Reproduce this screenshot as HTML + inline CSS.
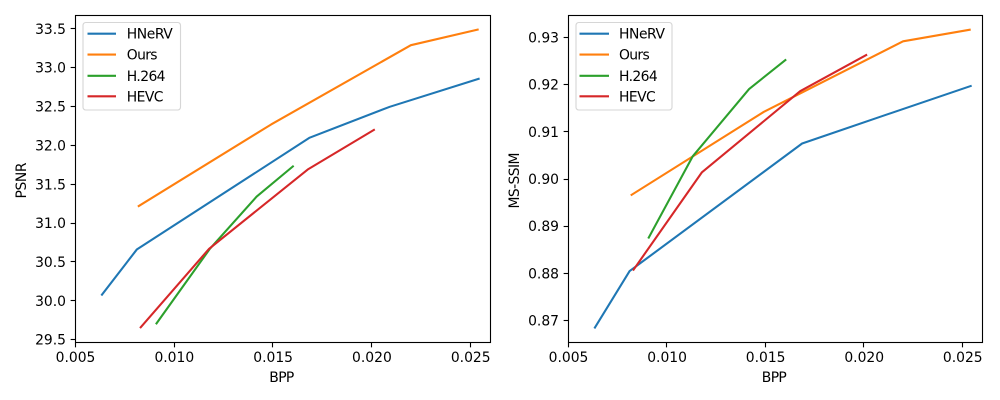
<!DOCTYPE html>
<html lang="en">
<head>
<meta charset="utf-8">
<title>HNeRV comparison chart</title>
<style>
html,body{margin:0;padding:0;background:#fff;width:1000px;height:400px;overflow:hidden}
svg{display:block}
text{font-family:"DejaVu Sans",sans-serif;font-size:13.89px;fill:#000}
</style>
</head>
<body>
<svg id="chart" xmlns="http://www.w3.org/2000/svg" width="1000" height="400" viewBox="0 0 1000 400"></svg>
<script>
const seriesNames = ['HNeRV', 'Ours', 'H.264', 'HEVC'];
const seriesColors = ['#1f77b4', '#ff7f0e', '#2ca02c', '#d62728'];

const hnervBpp = [0.00634, 0.0081, 0.01685, 0.0209, 0.0254];
const oursBpp = [0.0082, 0.0149, 0.02197, 0.02535];
const h264Bpp = [0.0091, 0.0118, 0.01416, 0.0160];
const h264SsimBpp = [0.00907, 0.0113, 0.01416, 0.0160];
const hevcBpp = [0.0083, 0.01176, 0.01675, 0.0201];

const hnervPsnr = [30.08, 30.66, 32.10, 32.497, 32.857];
const oursPsnr = [31.22, 32.27, 33.29, 33.49];
const h264Psnr = [29.71, 30.67, 31.34, 31.73];
const hevcPsnr = [29.66, 30.67, 31.69, 32.20];

const hnervSsim = [0.86855, 0.8805, 0.90752, 0.9133, 0.91969];
const oursSsim = [0.89665, 0.9142, 0.92915, 0.9316];
const h264Ssim = [0.8876, 0.9048, 0.91905, 0.92519];
const hevcSsim = [0.8808, 0.90138, 0.9186, 0.92625];

const xTicks = [0.005, 0.010, 0.015, 0.020, 0.025];
const xTickLabels = ['0.005', '0.010', '0.015', '0.020', '0.025'];
const psnrTicks = [29.5, 30, 30.5, 31, 31.5, 32, 32.5, 33, 33.5];
const psnrTickLabels = ['29.5', '30.0', '30.5', '31.0', '31.5', '32.0', '32.5', '33.0', '33.5'];
const ssimTicks = [0.87, 0.88, 0.89, 0.90, 0.91, 0.92, 0.93];
const ssimTickLabels = ['0.87', '0.88', '0.89', '0.90', '0.91', '0.92', '0.93'];

const NS = 'http://www.w3.org/2000/svg';
const root = document.getElementById('chart');

function make(parent, tag, attrs, txt) {
  const el = document.createElementNS(NS, tag);
  for (const k in attrs) el.setAttribute(k, attrs[k]);
  if (txt !== undefined) el.textContent = txt;
  parent.appendChild(el);
  return el;
}

function linearScale(d0, d1, r0, r1) {
  return v => r0 + (v - d0) / (d1 - d0) * (r1 - r0);
}

function drawPanel(opts) {
  const g = make(root, 'g', {});
  
  
  const x = linearScale(opts.xDomain[0], opts.xDomain[1], opts.left, opts.right);
  const y = linearScale(opts.yDomain[0], opts.yDomain[1], opts.bottom, opts.top);

  opts.series.forEach((s, i) => {
    const pts = s.xs.map((v, j) => x(v).toFixed(2) + ',' + y(s.ys[j]).toFixed(2)).join(' ');
    const line = make(g, 'polyline', {points: pts, fill: 'none', stroke: seriesColors[i], 'stroke-width': 2.08, 'stroke-linejoin': 'round', 'stroke-linecap': 'square'});
    
    
  });

  xTicks.forEach((t, i) => {
    const px = Math.floor(x(t) - 0.3) + 0.5;
    const tick = make(g, 'line', {x1: px, x2: px, y1: opts.bottom, y2: opts.bottom + 4.86, stroke: '#000', 'stroke-width': 1.11});
    
    
    const lab = make(g, 'text', {x: x(t), y: opts.bottom + 19.5, 'text-anchor': 'middle'}, xTickLabels[i]);
    
    
  });

  opts.yTicks.forEach((t, i) => {
    const py = Math.floor(y(t)) + 0.5;
    const tick = make(g, 'line', {x1: opts.left - 4.86, x2: opts.left, y1: py, y2: py, stroke: '#000', 'stroke-width': 1.11});
    
    
    const lab = make(g, 'text', {x: opts.left - 9.5, y: y(t) + 5, 'text-anchor': 'end'}, opts.yTickLabels[i]);
    
    
  });

  const frame = make(g, 'rect', {x: opts.left, y: opts.top, width: opts.right - opts.left, height: opts.bottom - opts.top, fill: 'none', stroke: '#000', 'stroke-width': 1.11});
  
  

  const xt = make(g, 'text', {x: (opts.left + opts.right) / 2 - 1.2, y: opts.bottom + 39.5, 'text-anchor': 'middle', textLength: 25}, 'BPP');
  
  
  const cy = (opts.top + opts.bottom) / 2 + 1.5;
  const yt = make(g, 'text', {x: opts.yTitleX, y: cy, 'text-anchor': 'middle', textLength: opts.yTitleLength, transform: 'rotate(-90 ' + opts.yTitleX + ' ' + cy + ')'}, opts.yTitle);
  
  

  const lg = make(g, 'g', {});
  
  
  make(lg, 'rect', {x: opts.legendLeft, y: 22.5, width: opts.legendWidth, height: 87.5, rx: 2.8, ry: 2.8, fill: '#fff', 'fill-opacity': 0.8, stroke: '#ccc', 'stroke-opacity': 0.8, 'stroke-width': 1.11});
  const rowY = [33.7, 54.6, 75.8, 96.3];
  const legendTextWidths = [46, 30.7, 38.7, 36.7];
  seriesNames.forEach((n, i) => {
    const sw = make(lg, 'line', {x1: opts.swatchLeft, x2: opts.swatchRight, y1: rowY[i], y2: rowY[i], stroke: seriesColors[i], 'stroke-width': 2.08});
    
    
    const t = make(lg, 'text', {x: opts.legendTextX, y: rowY[i] + 5, textLength: legendTextWidths[i]}, n);
    
    
  });
}

drawPanel({
  name: 'psnr', left: 75.5, right: 490.5, top: 15.5, bottom: 342.5,
  xDomain: [0.005, 0.026], yDomain: [29.464, 33.672],
  yTicks: psnrTicks, yTickLabels: psnrTickLabels, yTitle: 'PSNR', yTitleX: 26, yTitleLength: 36,
  legendLeft: 83, legendWidth: 97.5, swatchLeft: 87.5, swatchRight: 116, legendTextX: 126.8,
  series: [
    {xs: hnervBpp, ys: hnervPsnr},
    {xs: oursBpp, ys: oursPsnr},
    {xs: h264Bpp, ys: h264Psnr},
    {xs: hevcBpp, ys: hevcPsnr}
  ]
});

drawPanel({
  name: 'ms-ssim', left: 568.5, right: 982.5, top: 15.5, bottom: 342.5,
  xDomain: [0.005, 0.026], yDomain: [0.86538, 0.93462],
  yTicks: ssimTicks, yTickLabels: ssimTickLabels, yTitle: 'MS-SSIM', yTitleX: 519, yTitleLength: 56,
  legendLeft: 576, legendWidth: 96, swatchLeft: 579.5, swatchRight: 609, legendTextX: 619,
  series: [
    {xs: hnervBpp, ys: hnervSsim},
    {xs: oursBpp, ys: oursSsim},
    {xs: h264SsimBpp, ys: h264Ssim},
    {xs: hevcBpp, ys: hevcSsim}
  ]
});
</script>
</body>
</html>
